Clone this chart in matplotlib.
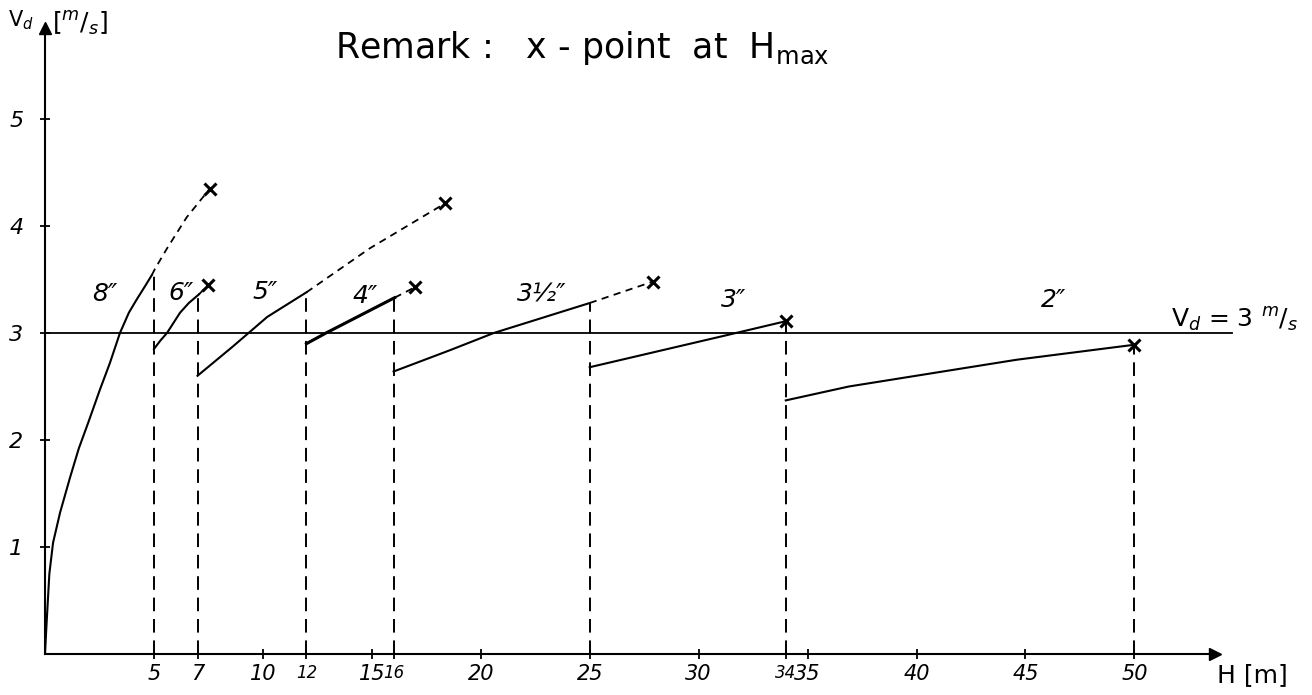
import numpy as np
import matplotlib.pyplot as plt

# --- Datos (H en m, Vd en m/s) ---
x_8 = [0, 0.05, 0.09, 0.2, 0.37, 0.69, 1.15, 1.55, 1.98, 2.52, 2.98, 3.44, 3.85, 4.2, 4.6, 4.9]
y_8 = [0, 0.2, 0.35, 0.75, 1.04, 1.32, 1.65, 1.92, 2.16, 2.47, 2.72, 3.0, 3.19, 3.31, 3.44, 3.54]
x_8_ext = [4.9, 5.05, 5.6, 6.5, 7.57]
y_8_ext = [3.54, 3.6, 3.79, 4.08, 4.35]

x_6 = [5.0, 5.3, 5.6, 6.2, 6.6, 7.06]
y_6 = [2.85, 2.93, 3.0, 3.19, 3.28, 3.36]
x_6_ext = [7.06, 7.5]
y_6_ext = [3.36, 3.45]

x_5 = [7.0, 8.6, 10.2, 12.0]
y_5 = [2.6, 2.87, 3.15, 3.38]
x_5_ext = [12.0, 14.9, 18.35]
y_5_ext = [3.38, 3.79, 4.21]

x_4 = [12.0, 12.9, 16.05]
y_4 = [2.9, 3.0, 3.33]
x_4_ext = [16.05, 17.0]
y_4_ext = [3.33, 3.43]

x_35 = [16.0, 18.6, 20.6, 25.0]
y_35 = [2.64, 2.84, 3.0, 3.28]
x_35_ext = [25.0, 27.9]
y_35_ext = [3.28, 3.48]

x_3 = [25.0, 31.3, 34.0]
y_3 = [2.68, 2.98, 3.11]

x_2 = [34.0, 36.9, 44.6, 50.0]
y_2 = [2.37, 2.5, 2.75, 2.89]

# puntos H_max (marcados con x)
hmax_x = [7.57, 7.5, 18.35, 17.0, 27.9, 34.0, 50.0]
hmax_y = [4.35, 3.45, 4.21, 3.43, 3.48, 3.11, 2.89]

# líneas verticales de cambio de diámetro
vert_x = [5, 7, 12, 16, 25, 34, 50]
vert_top = [3.54, 3.36, 3.38, 3.33, 3.28, 3.11, 2.89]

# etiquetas de diámetro
diam_labels = ['8″', '6″', '5″', '4″', '3½″', '3″', '2″']
diam_x = [2.75, 6.24, 10.1, 14.7, 22.8, 31.6, 46.3]
diam_y = [3.36, 3.37, 3.38, 3.35, 3.36, 3.31, 3.31]

x_ticks = [5, 7, 10, 12, 15, 16, 20, 25, 30, 34, 35, 40, 45, 50]
small_ticks = [12, 16, 34]
y_ticks = [1, 2, 3, 4, 5]
VD_LIMIT = 3.0

# --- Figura ---
fig = plt.figure(figsize=(13.12, 6.95), dpi=100)
ax = fig.add_axes([45 / 1312, 41 / 695, 1170 / 1312, 626 / 695])
ax.set_xlim(0, 53.7)
ax.set_ylim(0, 5.85)

for s in ['top', 'right']:
    ax.spines[s].set_visible(False)
ax.spines['left'].set_linewidth(1.5)
ax.spines['bottom'].set_linewidth(1.5)
ax.plot(1, 0, '>k', ms=9, transform=ax.get_yaxis_transform(), clip_on=False)
ax.plot(0, 1, '^k', ms=9, transform=ax.get_xaxis_transform(), clip_on=False)

ax.set_xticks(x_ticks, [str(t) for t in x_ticks])
ax.set_yticks(y_ticks, [str(t) for t in y_ticks])
ax.tick_params(direction='inout', length=7, width=1.3)
ax.tick_params(axis='y', pad=12)
for lab in ax.get_xticklabels():
    lab.set_fontstyle('italic')
    lab.set_fontsize(12 if int(lab.get_text()) in small_ticks else 15)
for lab in ax.get_yticklabels():
    lab.set_fontstyle('italic')
    lab.set_fontsize(16)

# curvas
lw = 1.5
for xs, ys in [(x_8, y_8), (x_6, y_6), (x_5, y_5), (x_4, y_4),
               (x_35, y_35), (x_3, y_3), (x_2, y_2)]:
    ax.plot(xs, ys, color='k', lw=lw)
ax.plot(x_4, y_4, color='k', lw=2.2)

for xs, ys in [(x_8_ext, y_8_ext), (x_6_ext, y_6_ext), (x_5_ext, y_5_ext),
               (x_4_ext, y_4_ext), (x_35_ext, y_35_ext)]:
    ax.plot(xs, ys, color='k', lw=1.3, dashes=(4, 3))

ax.plot(hmax_x, hmax_y, 'x', color='k', ms=9, mew=2.2, ls='none')

ax.vlines(vert_x, 0, vert_top, colors='k', lw=1.4, linestyles=(0, (7, 4)))

ax.plot([0, 54.5], [VD_LIMIT, VD_LIMIT], color='k', lw=1.3, clip_on=False)

for lab, xx, yy in zip(diam_labels, diam_x, diam_y):
    ax.text(xx, yy, lab, fontsize=18, fontstyle='italic', ha='center', va='center')

ax.text(51.7, 3.12, r'V$_d$ = 3 $^m/_s$', fontsize=18, ha='left', va='center', clip_on=False)
ax.text(53.8, -0.2, 'H [m]', fontsize=18, ha='left', va='center', clip_on=False)

fig.text(8 / 1312, 1 - 20 / 695, r'V$_d$', fontsize=15, ha='left', va='center')
fig.text(52 / 1312, 1 - 24 / 695, r'[$^m/_s$]', fontsize=18, ha='left', va='center')
fig.text(335 / 1312, 1 - 48 / 695, r'Remark :   x - point  at  H$_{\mathrm{max}}$',
         fontsize=25, ha='left', va='center')

fig.savefig('out.png', dpi=100)
